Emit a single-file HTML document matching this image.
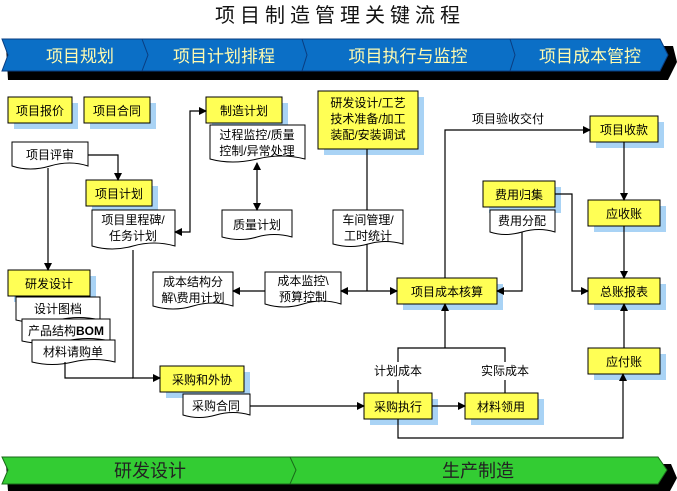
<!DOCTYPE html>
<html><head><meta charset="utf-8"><style>
html,body{margin:0;padding:0;background:#fff;}
svg{display:block;}
text{font-family:"Liberation Sans","Noto Sans CJK SC",sans-serif;}
</style></head><body>
<svg width="677" height="491" viewBox="0 0 677 491" xmlns="http://www.w3.org/2000/svg">
<defs>
<marker id="a" markerWidth="8" markerHeight="8" refX="7" refY="4" orient="auto" markerUnits="userSpaceOnUse"><path d="M0,0 L8,4 L0,8 z" fill="#000"/></marker>
<marker id="s" markerWidth="8" markerHeight="8" refX="1" refY="4" orient="auto" markerUnits="userSpaceOnUse"><path d="M8,0 L0,4 L8,8 z" fill="#000"/></marker>
</defs>
<text x="340" y="22" font-size="20" text-anchor="middle" letter-spacing="5" fill="#111">项目制造管理关键流程</text>
<!-- blue band -->
<path d="M6,46 L673,46 L677,62 L668,80 L8,80 z" fill="#000"/>
<path d="M2,39 L660,39 L668,55 L660,71 L2,71 L8,55 z" fill="#0b6fc6" stroke="#0a3d80" stroke-width="1"/>
<path d="M142,39 L148,55 L142,71 M302,39 L307,55 L302,71 M510,39 L515,55 L510,71" stroke="#0a3d80" fill="none"/>
<g font-size="17" fill="#fffbb0" text-anchor="middle">
<text x="80" y="62">项目规划</text><text x="224" y="62">项目计划排程</text><text x="408" y="62">项目执行与监控</text><text x="590" y="62">项目成本管控</text></g>
<!-- green band -->
<path d="M6,464 L671,464 L677,478 L670,491 L8,491 z" fill="#000"/>
<path d="M2,457 L658,457 L667,470 L658,484 L2,484 L8,470 z" fill="#33cc33" stroke="#1a6a1a"/>
<path d="M290,457 L296,470 L290,484" stroke="#1a6a1a" fill="none"/>
<g font-size="18" fill="#222" text-anchor="middle"><text x="150" y="477">研发设计</text><text x="478" y="477">生产制造</text></g>
<!-- yellow boxes -->
<g font-size="12" text-anchor="middle" fill="#000">
<g id="yb">
<rect x="14" y="103" width="64" height="26" fill="#a9d3f5"/><rect x="8" y="97" width="64" height="26" fill="#ffff55" stroke="#000"/><text x="40" y="115">项目报价</text>
<rect x="90" y="103" width="66" height="26" fill="#a9d3f5"/><rect x="84" y="97" width="66" height="26" fill="#ffff55" stroke="#000"/><text x="117" y="115">项目合同</text>
<rect x="212" y="103" width="76" height="26" fill="#a9d3f5"/><rect x="206" y="97" width="76" height="26" fill="#ffff55" stroke="#000"/><text x="244" y="115">制造计划</text>
<rect x="324" y="97" width="100" height="58" fill="#a9d3f5"/><rect x="318" y="91" width="100" height="58" fill="#ffff55" stroke="#000"/>
<text x="368" y="107">研发设计/工艺</text><text x="368" y="123">技术准备/加工</text><text x="368" y="139">装配/安装调试</text>
<rect x="596" y="122" width="68" height="26" fill="#a9d3f5"/><rect x="590" y="116" width="68" height="26" fill="#ffff55" stroke="#000"/><text x="624" y="134">项目收款</text>
<rect x="489" y="187" width="72" height="26" fill="#a9d3f5"/><rect x="483" y="181" width="72" height="26" fill="#ffff55" stroke="#000"/><text x="519" y="199">费用归集</text>
<rect x="594" y="206" width="72" height="26" fill="#a9d3f5"/><rect x="588" y="200" width="72" height="26" fill="#ffff55" stroke="#000"/><text x="624" y="218">应收账</text>
<rect x="92" y="186" width="66" height="26" fill="#a9d3f5"/><rect x="86" y="180" width="66" height="26" fill="#ffff55" stroke="#000"/><text x="119" y="198">项目计划</text>
<rect x="14" y="276" width="82" height="26" fill="#a9d3f5"/><rect x="8" y="270" width="82" height="26" fill="#ffff55" stroke="#000"/><text x="49" y="288">研发设计</text>
<rect x="403" y="284" width="100" height="26" fill="#a9d3f5"/><rect x="397" y="278" width="100" height="26" fill="#ffff55" stroke="#000"/><text x="447" y="296">项目成本核算</text>
<rect x="594" y="284" width="72" height="26" fill="#a9d3f5"/><rect x="588" y="278" width="72" height="26" fill="#ffff55" stroke="#000"/><text x="624" y="296">总账报表</text>
<rect x="594" y="354" width="72" height="26" fill="#a9d3f5"/><rect x="588" y="348" width="72" height="26" fill="#ffff55" stroke="#000"/><text x="624" y="366">应付账</text>
<rect x="166" y="372" width="84" height="26" fill="#a9d3f5"/><rect x="160" y="366" width="84" height="26" fill="#ffff55" stroke="#000"/><text x="202" y="384">采购和外协</text>
<rect x="370" y="399" width="68" height="26" fill="#a9d3f5"/><rect x="364" y="393" width="68" height="26" fill="#ffff55" stroke="#000"/><text x="398" y="411">采购执行</text>
<rect x="471" y="399" width="73" height="26" fill="#a9d3f5"/><rect x="465" y="393" width="73" height="26" fill="#ffff55" stroke="#000"/><text x="501" y="411">材料领用</text>
</g>
<!-- documents -->
<g fill="#fff" stroke="#000">
<path d="M12,142 H88 V166 Q70,160 50,166 T12,166 Z"/>
<path d="M92,210 H175 V246 Q154,240 133,246 T92,246 Z"/>
<path d="M210,125 H305 V159 Q282,153 257,159 T210,159 Z"/>
<path d="M222,210 H292 V237 Q274,232 257,237 T222,237 Z"/>
<path d="M333,210 H403 V244 Q385,239 368,244 T333,244 Z"/>
<path d="M490,210 H555 V232 Q539,227 522,232 T490,232 Z"/>
<path d="M153,272 H233 V306 Q213,300 193,306 T153,306 Z"/>
<path d="M265,272 H341 V304 Q322,298 303,304 T265,304 Z"/>
<path d="M16,297 H100 V320 Q79,315 58,320 T16,320 Z"/>
<path d="M22,319 H110 V341 Q88,336 66,341 T22,341 Z"/>
<path d="M32,340 H115 V362 Q94,357 73,362 T32,362 Z"/>
<path d="M183,394 H250 V415 Q233,410 216,415 T183,415 Z"/>
</g>
<text x="50" y="159">项目评审</text>
<text x="133" y="224">项目里程碑/</text><text x="133" y="240">任务计划</text>
<text x="257" y="139">过程监控/质量</text><text x="257" y="155">控制/异常处理</text>
<text x="257" y="229">质量计划</text>
<text x="368" y="224">车间管理/</text><text x="368" y="240">工时统计</text>
<text x="522" y="225">费用分配</text>
<text x="193" y="286">成本结构分</text><text x="193" y="302">解\费用计划</text>
<text x="303" y="285">成本监控\</text><text x="303" y="301">预算控制</text>
<text x="58" y="313">设计图档</text>
<text x="66" y="335">产品结构<tspan font-weight="bold">BOM</tspan></text>
<text x="73" y="356">材料请购单</text>
<text x="216" y="410">采购合同</text>
<text x="508" y="123">项目验收交付</text>
<text x="398" y="375">计划成本</text>
<text x="505" y="375">实际成本</text>
</g>
<!-- connectors -->
<g stroke="#000" stroke-width="1.2" fill="none">
<path d="M88,155 H118 V180" marker-end="url(#a)"/>
<path d="M48,168 V270" marker-end="url(#a)"/>
<path d="M133,250 V378 H160" marker-end="url(#a)"/>
<path d="M65,362 V378 H133"/>
<path d="M175,232 H190 V111 H206" marker-start="url(#s)" marker-end="url(#a)"/>
<path d="M257,163 V210" marker-start="url(#s)" marker-end="url(#a)"/>
<path d="M367,149 V210 M367,244 V291"/>
<path d="M341,291 H397" marker-start="url(#s)" marker-end="url(#a)"/>
<path d="M265,291 H233" marker-end="url(#a)"/>
<path d="M445,278 V130 H590" marker-end="url(#a)"/>
<path d="M522,232 V291 H497" marker-end="url(#a)"/>
<path d="M555,194 H572 V291 H588" marker-end="url(#a)"/>
<path d="M624,142 V200" marker-end="url(#a)"/>
<path d="M624,226 V278" marker-end="url(#a)"/>
<path d="M624,348 V304" marker-end="url(#a)"/>
<path d="M445,348 V304" marker-end="url(#a)"/>
<path d="M398,362 V348 H505 V362 M398,380 V393 M505,380 V393"/>
<path d="M250,406 H364" marker-end="url(#a)"/>
<path d="M432,406 H465" marker-end="url(#a)"/>
<path d="M398,419 V438 H623 V374" marker-end="url(#a)"/>
</g>
</svg>
</body></html>
